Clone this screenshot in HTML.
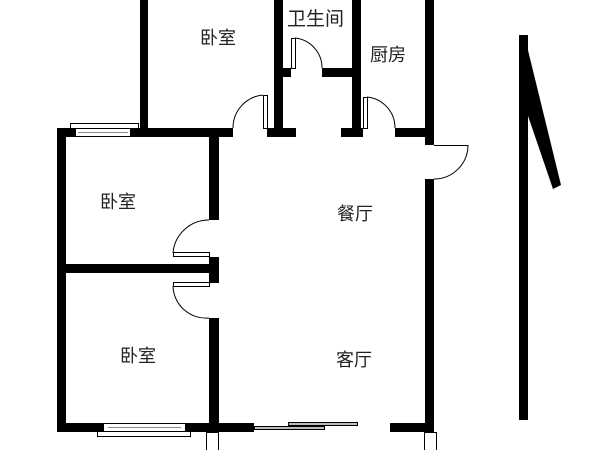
<!DOCTYPE html>
<html><head><meta charset="utf-8"><style>
html,body{margin:0;padding:0;background:#fff;}
svg{display:block}
text{font-family:"Liberation Sans","Noto Sans CJK SC",sans-serif;font-size:18px;fill:#222}
</style></head><body>
<svg width="600" height="450" viewBox="0 0 600 450" xmlns="http://www.w3.org/2000/svg">
<rect width="600" height="450" fill="#fff"/>
<g fill="#000">
<!-- top bedroom walls -->
<rect x="140" y="0" width="8" height="137"/>
<rect x="274" y="0" width="9" height="137"/>
<rect x="352" y="0" width="9" height="137"/>
<rect x="425" y="0" width="9" height="145"/>
<!-- horizontal wall y128-137 -->
<rect x="57" y="128" width="18" height="9"/>
<rect x="130" y="128" width="103" height="9"/>
<rect x="267" y="128" width="29" height="9"/>
<rect x="341" y="128" width="22" height="9"/>
<rect x="395" y="128" width="39" height="9"/>
<!-- bath horizontal -->
<rect x="283" y="68" width="8" height="9"/>
<rect x="322" y="68" width="30" height="9"/>
<!-- left exterior -->
<rect x="57" y="128" width="9" height="304"/>
<!-- interior vertical -->
<rect x="209" y="137" width="10" height="83"/>
<rect x="209" y="257" width="10" height="26"/>
<rect x="209" y="318" width="10" height="132"/>
<rect x="57" y="264" width="152" height="9"/>
<!-- right exterior -->
<rect x="425" y="179" width="9" height="261"/>
<!-- bottom wall -->
<rect x="57" y="423" width="46" height="9"/>
<rect x="185" y="423" width="69" height="9"/>
<rect x="390" y="423" width="44" height="9"/>
<!-- north arrow -->
<rect x="519" y="35" width="9" height="385"/>
<polygon points="519,35 525,38 561,185 553,189 526,110 519,60"/>
</g>
<g fill="#fff" stroke="#000" stroke-width="1">
<!-- windows -->
<rect x="70.5" y="123.5" width="68" height="5"/>
<rect x="75.5" y="128.5" width="55" height="8"/>
<line x1="78" y1="132.5" x2="128" y2="132.5" stroke="#888"/>
<rect x="97.5" y="431.5" width="93" height="5"/>
<rect x="103.5" y="423.5" width="82" height="8"/>
<line x1="108" y1="427.5" x2="181" y2="427.5" stroke="#888"/>
<!-- sliding door -->
<rect x="254.5" y="426.5" width="70" height="3" fill="#bbb"/>
<rect x="288.5" y="422.5" width="69" height="3" fill="#bbb"/>
<!-- stubs bottom -->
<rect x="206.5" y="432.5" width="12" height="18"/>
<rect x="424.5" y="432.5" width="12" height="18"/>
<!-- door leaves -->
<rect x="263.5" y="95.5" width="4" height="33"/>
<rect x="363.5" y="97.5" width="4" height="31"/>
<rect x="291.5" y="38.5" width="4" height="30"/>
<rect x="173.5" y="252.5" width="36" height="4"/>
<rect x="173.5" y="282.5" width="36" height="4"/>
<line x1="434" y1="145.5" x2="468" y2="145.5"/>
</g>
<g fill="none" stroke="#000" stroke-width="1">
<path d="M263,95 A33,33 0 0 0 233,128"/>
<path d="M367,97 A31,31 0 0 1 395,128"/>
<path d="M295,38 A30,30 0 0 1 322,68"/>
<path d="M209,220 A36,36 0 0 0 173,253"/>
<path d="M173,286 A33,33 0 0 0 209,318"/>
<path d="M468,145 A34,34 0 0 1 434,179"/>
</g>
<rect x="285" y="5" width="62" height="25" fill="#fff"/>
<text x="287" y="25" style="font-size:19px">卫生间</text>
<text x="200" y="44">卧室</text>
<text x="370" y="61">厨房</text>
<text x="100" y="208">卧室</text>
<text x="337" y="220">餐厅</text>
<text x="120" y="362">卧室</text>
<text x="336" y="366">客厅</text>
</svg>
</body></html>
